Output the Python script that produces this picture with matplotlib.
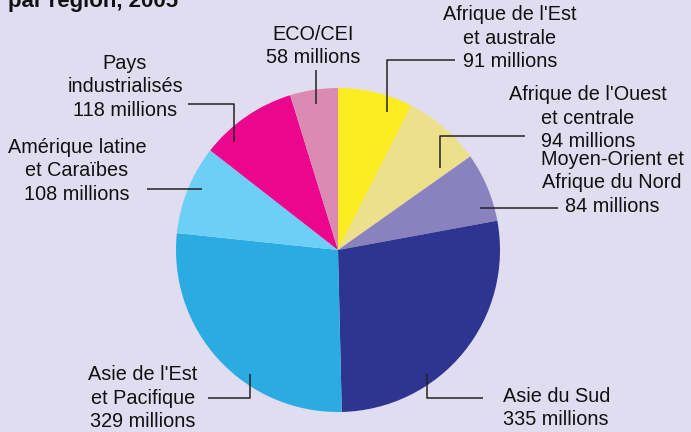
import matplotlib.pyplot as plt

plt.rcParams['font.family'] = ['Liberation Sans', 'DejaVu Sans']

# Population par région, 2005 (millions), clockwise from the top
regions = [
    "Afrique de l'Est\net australe",
    "Afrique de l'Ouest\net centrale",
    "Moyen-Orient et\nAfrique du Nord",
    "Asie du Sud",
    "Asie de l'Est\net Pacifique",
    "Amérique latine\net Caraïbes",
    "Pays\nindustrialisés",
    "ECO/CEI",
]
values = [91, 94, 84, 335, 329, 108, 118, 58]
colors = ["#fcec22", "#ede08c", "#8a82be", "#2e3590",
          "#2aabe2", "#6dcff6", "#ec068d", "#db8ab1"]

W, H = 691, 432
bg = "#e1ddf0"

fig = plt.figure(figsize=(W / 100, H / 100), dpi=100, facecolor=bg)
ax = fig.add_axes([0, 0, 1, 1])

cx, cy, r = 338, H - 250, 162
ax.pie(values, colors=colors, startangle=90, counterclock=False,
       center=(cx, cy), radius=r, frame=True,
       wedgeprops=dict(linewidth=0))
ax.set_xlim(0, W)
ax.set_ylim(0, H)
ax.set_aspect('equal')
ax.axis('off')

# label layout: text centre (x, y in px from top), alignment, leader polyline (px)
layout = [
    ((510, 38), 'center', [(387, 112), (387, 60), (455, 60)]),
    ((588, 118), 'center', [(440, 168), (440, 136), (525, 136)]),
    ((612, 183), 'center', [(480, 208), (558, 208)]),
    ((503, 408), 'left', [(427, 374), (427, 398), (483, 398)]),
    ((143, 398), 'center', [(250, 374), (250, 398), (208, 398)]),
    ((77, 171), 'center', [(147, 189), (202, 189)]),
    ((125, 87), 'center', [(188, 104), (234, 104), (234, 142)]),
    ((313, 46), 'center', [(316, 70), (316, 104)]),
]

for name, val, (pos, ha, line) in zip(regions, values, layout):
    label = f"{name}\n{val} millions"
    ax.text(pos[0], H - pos[1], label, ha=ha, va='center', fontsize=14.3,
            linespacing=1.3, color="#111111")
    xs = [p[0] for p in line]
    ys = [H - p[1] for p in line]
    ax.plot(xs, ys, color="#222222", linewidth=1.1, solid_capstyle='butt')

ax.text(8, H - 7, "par région, 2005", ha='left', va='baseline',
        fontsize=16, fontweight='bold', color="#111111")

fig.savefig("out.png", dpi=100, facecolor=bg)
